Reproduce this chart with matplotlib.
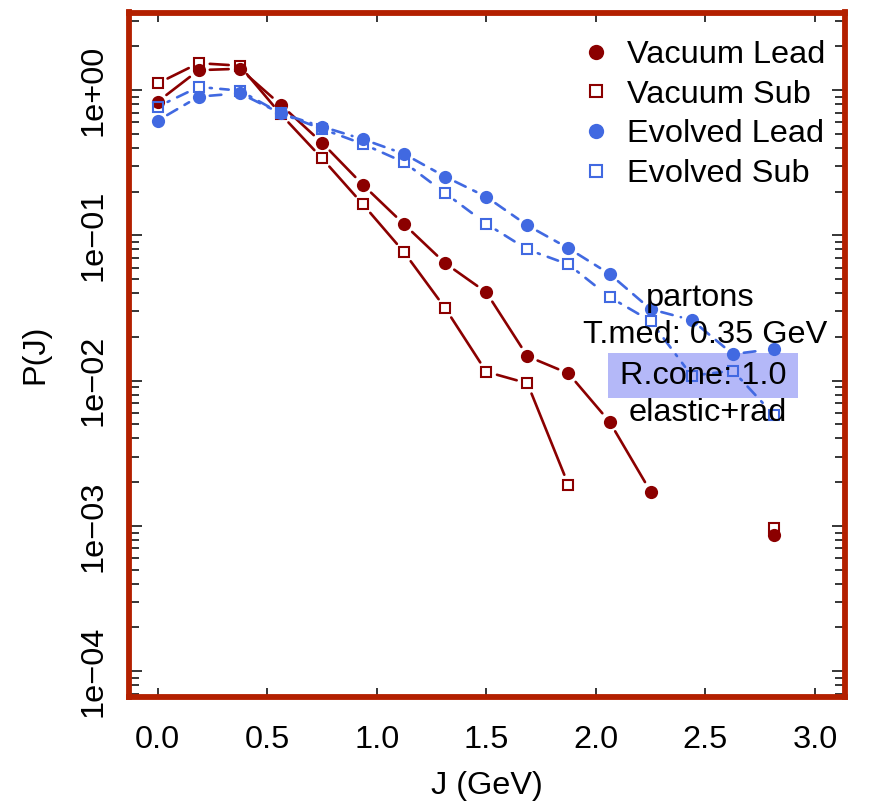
import numpy as np
import matplotlib
matplotlib.use("Agg")
import matplotlib.pyplot as plt
from matplotlib.lines import Line2D
from matplotlib.patches import Rectangle
from matplotlib.ticker import FixedLocator, FixedFormatter, LogLocator, NullFormatter

plt.rcParams['font.family'] = ['Liberation Sans', 'DejaVu Sans']

nan = np.nan
J = [0.0, 0.1875, 0.375, 0.5625, 0.75, 0.9375, 1.125, 1.3125, 1.5, 1.6875,
     1.875, 2.0625, 2.25, 2.4375, 2.625, 2.8125]
vac_lead = [0.83, 1.37, 1.40, 0.79, 0.434, 0.222, 0.119, 0.0642, 0.0405, 0.0147,
            0.0112, 0.00521, 0.00172, nan, nan, 0.000866]
vac_sub = [1.11, 1.53, 1.47, 0.68, 0.339, 0.163, 0.0764, 0.0315, 0.0115, 0.00958,
           0.00191, nan, nan, nan, nan, 0.00096]
evo_lead = [0.615, 0.90, 0.95, 0.69, 0.56, 0.458, 0.363, 0.253, 0.184, 0.117,
            0.0814, 0.0542, 0.031, 0.0261, 0.0152, 0.0165]
evo_sub = [0.767, 1.05, 0.99, 0.69, 0.54, 0.425, 0.318, 0.195, 0.12, 0.0799,
           0.063, 0.0376, 0.0257, 0.0108, 0.0117, 0.0058]

labels = ["Vacuum Lead", "Vacuum Sub", "Evolved Lead", "Evolved Sub"]
xticks = [0.0, 0.5, 1.0, 1.5, 2.0, 2.5, 3.0]
xticklabels = ["0.0", "0.5", "1.0", "1.5", "2.0", "2.5", "3.0"]
yticks = [1e0, 1e-1, 1e-2, 1e-3, 1e-4]
yticklabels = ["1e+00", "1e\u221201", "1e\u221202", "1e\u221203", "1e\u221204"]

RED = '#8B0000'
BLUE = '#4169E1'
FRAME = '#B32000'
FS = 23.4

fig = plt.figure(figsize=(8.7, 8.07), dpi=100)
ax = fig.add_axes([129/870, 1-697/807, 716/870, 684.5/807])
ax.set_yscale('log')
ax.set_xlim(-0.1305, 3.137)
ax.set_ylim(6.64e-5, 3.415)

LW = 1.9
styles = [
    (vac_lead, RED, 'o', True, '-'),
    (vac_sub, RED, 's', False, '-'),
    (evo_lead, BLUE, 'o', True, (0, (4.4, 3.2))),
    (evo_sub, BLUE, 's', False, (0, (0.8, 3.2, 4.4, 3.2))),
]
z = 3
for vals, col, mk, filled, ls in styles:
    for i in range(len(J) - 1):
        a, b = vals[i], vals[i + 1]
        if np.isfinite(a) and np.isfinite(b):
            ax.annotate('', xy=(J[i + 1], b), xytext=(J[i], a),
                        xycoords='data', textcoords='data',
                        arrowprops=dict(arrowstyle='-', color=col, lw=LW,
                                        linestyle=ls, shrinkA=8, shrinkB=8),
                        zorder=z)
    if filled:
        ax.plot(J, vals, linestyle='none', marker='o', ms=9.5, color=col,
                mec=col, mew=0, zorder=z + 0.5)
    else:
        ax.plot(J, vals, linestyle='none', marker='s', ms=7.3, mfc='none',
                mec=col, mew=1.5, zorder=z + 0.5)
    z += 1

# ticks
ax.xaxis.set_major_locator(FixedLocator(xticks))
ax.xaxis.set_major_formatter(FixedFormatter(xticklabels))
ax.yaxis.set_major_locator(FixedLocator(yticks))
ax.yaxis.set_major_formatter(FixedFormatter(yticklabels))
ax.yaxis.set_minor_locator(LogLocator(base=10, subs=np.arange(2, 10), numticks=20))
ax.yaxis.set_minor_formatter(NullFormatter())
ax.tick_params(axis='both', which='both', direction='in', top=True, right=True,
               colors='black', labelsize=FS, width=1.1)
ax.tick_params(axis='y', which='major', length=9.6, pad=15, labelrotation=90)
ax.tick_params(axis='y', which='minor', length=7.4)
ax.tick_params(axis='x', which='major', length=6.5, pad=20)
for lab in ax.get_yticklabels():
    lab.set_verticalalignment('center')

for sp in ax.spines.values():
    sp.set_color(FRAME)
    sp.set_linewidth(4.2)
    sp.set_zorder(10)

ax.set_xlabel("J (GeV)", fontsize=FS, labelpad=12)
ax.set_ylabel("P(J)", fontsize=FS, labelpad=20)

# annotation box
ax.add_patch(Rectangle((0.669, 0.4368), 0.934 - 0.669, 0.5026 - 0.4368,
                       transform=ax.transAxes, facecolor='#B4B8F8',
                       edgecolor='none', zorder=2))
ax.text(0.7975, 0.583, "partons", transform=ax.transAxes, ha='center',
        va='center', fontsize=FS, zorder=20)
ax.text(0.8045, 0.529, "T.med: 0.35 GeV", transform=ax.transAxes, ha='center',
        va='center', fontsize=FS, zorder=20)
ax.text(0.8017, 0.469, "R.cone: 1.0", transform=ax.transAxes, ha='center',
        va='center', fontsize=FS, zorder=20)
ax.text(0.8087, 0.415, "elastic+rad", transform=ax.transAxes, ha='center',
        va='center', fontsize=FS, zorder=20)

handles = [
    Line2D([], [], linestyle='none', marker='o', ms=11, color=RED, mew=0),
    Line2D([], [], linestyle='none', marker='s', ms=9, mfc='none', mec=RED, mew=1.5),
    Line2D([], [], linestyle='none', marker='o', ms=11, color=BLUE, mew=0),
    Line2D([], [], linestyle='none', marker='s', ms=9, mfc='none', mec=BLUE, mew=1.5),
]
leg = ax.legend(handles, labels, loc='upper left',
                bbox_to_anchor=(583.5/870, 1-40/807), bbox_transform=fig.transFigure,
                frameon=False, fontsize=FS, borderpad=0, borderaxespad=0,
                handlelength=0.77, handletextpad=0.58, labelspacing=0.30)
leg.set_zorder(30)

fig.savefig("out.png", dpi=100)
